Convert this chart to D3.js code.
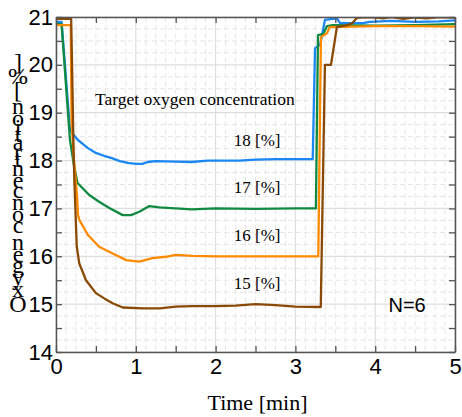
<!DOCTYPE html>
<html>
<head>
<meta charset="utf-8">
<script src="https://cdn.jsdelivr.net/npm/d3@7"></script>
<style>
  body { margin: 0; background: #fff; }
  svg { display: block; }
</style>
</head>
<body>
<div id="chart"></div>
<script>
// time (min) / oxygen (%)
const tBlue = [0, 0.07, 0.175, 0.225, 0.275, 0.4, 0.5, 0.6, 0.7, 0.8, 0.9, 1.0, 1.08, 1.15, 1.25, 1.5, 1.7, 1.9, 2.0, 2.3, 2.5, 2.75, 3.0, 3.217, 3.246, 3.31, 3.37, 3.52, 3.56, 3.85, 3.93, 4.2, 4.5, 4.8, 5.0];
const vBlue = [20.9, 20.9, 18.64, 18.53, 18.43, 18.26, 18.16, 18.1, 18.05, 17.99, 17.95, 17.93, 17.93, 17.97, 17.99, 17.98, 17.97, 18.0, 18.0, 18.0, 18.02, 18.03, 18.03, 18.03, 20.35, 20.42, 20.94, 20.97, 20.87, 20.87, 20.9, 20.92, 20.9, 20.91, 20.93];

const tGreen = [0, 0.07, 0.175, 0.225, 0.27, 0.417, 0.54, 0.668, 0.836, 0.94, 1.044, 1.17, 1.295, 1.5, 1.7, 2.0, 2.5, 3.0, 3.257, 3.283, 3.35, 3.396, 3.47, 4.0, 4.5, 5.0];
const vGreen = [20.85, 20.85, 18.43, 17.9, 17.53, 17.28, 17.14, 17.01, 16.86, 16.86, 16.93, 17.05, 17.02, 17.0, 16.98, 17.0, 16.99, 17.0, 17.0, 20.62, 20.65, 20.81, 20.83, 20.82, 20.83, 20.85];

const tOrange = [0, 0.185, 0.195, 0.225, 0.263, 0.276, 0.292, 0.398, 0.54, 0.71, 0.88, 1.044, 1.21, 1.378, 1.5, 1.713, 2.0, 2.5, 3.0, 3.287, 3.32, 3.396, 3.43, 4.0, 4.5, 5.0];
const vOrange = [20.83, 20.83, 18.85, 18.01, 17.28, 16.86, 16.76, 16.45, 16.2, 16.06, 15.92, 15.89, 15.96, 15.99, 16.03, 16.01, 16.0, 16.0, 16.0, 16.0, 20.58, 20.66, 20.79, 20.81, 20.81, 20.8];

const tBrown = [0, 0.19, 0.2, 0.22, 0.23, 0.26, 0.292, 0.376, 0.5, 0.605, 0.71, 0.836, 1.09, 1.3, 1.5, 1.7, 2.0, 2.25, 2.5, 2.75, 3.0, 3.318, 3.37, 3.446, 3.52, 3.65, 3.71, 3.77, 3.9, 4.0, 4.1, 4.2, 4.35, 4.5, 4.65, 4.8, 5.0];
const vBrown = [20.96, 20.96, 20.1, 18.2, 17.6, 16.2, 15.85, 15.5, 15.23, 15.12, 15.02, 14.93, 14.91, 14.91, 14.95, 14.96, 14.96, 14.97, 15.0, 14.98, 14.95, 14.94, 20.0, 20.0, 20.79, 20.83, 20.87, 20.98, 21.0, 20.99, 20.97, 21.0, 20.96, 20.99, 20.97, 21.0, 20.99];

const targets = ['18 [%]', '17 [%]', '16 [%]', '15 [%]'];
const targetLevels = [18, 17, 16, 15];

const xTicks = [0, 1, 2, 3, 4, 5];
const yTicks = [14, 15, 16, 17, 18, 19, 20, 21];

const series = [
  { t: tBlue, v: vBlue, color: '#1a87f2' },
  { t: tGreen, v: vGreen, color: '#0f8a40' },
  { t: tOrange, v: vOrange, color: '#ff8a00' },
  { t: tBrown, v: vBrown, color: '#8a4a06' }
];

const W = 462, H = 417;
const margin = { top: 17, right: 7, bottom: 65, left: 56 };
const width = W - margin.left - margin.right;
const height = H - margin.top - margin.bottom;

const svg = d3.select('#chart').append('svg').attr('width', W).attr('height', H);
const g = svg.append('g').attr('transform', `translate(${margin.left},${margin.top})`);

const x = d3.scaleLinear().domain([0, 5]).range([0, width]);
const y = d3.scaleLinear().domain([14, 21]).range([height, 0]);

// minor dashed grid
g.append('g').selectAll('line.mx')
  .data(d3.range(0.125, 5, 0.125).filter(d => Math.abs(d - Math.round(d)) > 0.01))
  .enter().append('line')
    .attr('x1', d => x(d)).attr('x2', d => x(d))
    .attr('y1', 0).attr('y2', height)
    .attr('stroke', '#e6e6e6').attr('stroke-dasharray', '5,3');
g.append('g').selectAll('line.my')
  .data(d3.range(14.25, 21, 0.25).filter(d => Math.abs(d - Math.round(d)) > 0.01))
  .enter().append('line')
    .attr('x1', 0).attr('x2', width)
    .attr('y1', d => y(d)).attr('y2', d => y(d))
    .attr('stroke', '#e6e6e6').attr('stroke-dasharray', '5,3');

// major grid
g.append('g').selectAll('line')
  .data(xTicks).enter().append('line')
    .attr('x1', d => x(d)).attr('x2', d => x(d))
    .attr('y1', 0).attr('y2', height)
    .attr('stroke', '#dedede').attr('stroke-width', 1.2);
g.append('g').selectAll('line')
  .data(yTicks).enter().append('line')
    .attr('x1', 0).attr('x2', width)
    .attr('y1', d => y(d)).attr('y2', d => y(d))
    .attr('stroke', '#dedede').attr('stroke-width', 1.2);

// curves
g.append('clipPath').attr('id', 'clip')
  .append('rect').attr('width', width).attr('height', height);

const line = d3.line().x(d => x(d[0])).y(d => y(d[1]));

g.append('g').attr('clip-path', 'url(#clip)')
  .selectAll('path')
  .data(series).enter().append('path')
    .attr('d', s => line(s.t.map((t, i) => [t, s.v[i]])))
    .attr('fill', 'none')
    .attr('stroke', s => s.color)
    .attr('stroke-width', 2.3)
    .attr('stroke-linejoin', 'round');

// axes: box with inward ticks
const halfX = d3.range(0, 5.01, 0.5);
const halfY = d3.range(14, 21.01, 0.5);
const fmt = d => Number.isInteger(d) ? d : '';

function styleAxis(sel) {
  sel.select('.domain').attr('stroke', '#555').attr('stroke-width', 1.5);
  sel.selectAll('.tick line').attr('stroke', '#555').attr('stroke-width', 1.3);
  sel.selectAll('text').attr('font-family', 'Liberation Sans, Arial, sans-serif')
    .attr('font-size', 22).attr('fill', '#000');
}

g.append('g').attr('transform', `translate(0,${height})`)
  .call(d3.axisBottom(x).tickValues(halfX).tickFormat(fmt).tickSizeInner(-6).tickSizeOuter(0).tickPadding(6))
  .call(styleAxis);
g.append('g')
  .call(d3.axisTop(x).tickValues(halfX).tickFormat('').tickSizeInner(-6).tickSizeOuter(0))
  .call(styleAxis);
g.append('g')
  .call(d3.axisLeft(y).tickValues(halfY).tickFormat(fmt).tickSizeInner(-6).tickSizeOuter(0).tickPadding(3))
  .call(styleAxis);
g.append('g').attr('transform', `translate(${width},0)`)
  .call(d3.axisRight(y).tickValues(halfY).tickFormat('').tickSizeInner(-6).tickSizeOuter(0))
  .call(styleAxis);

// annotations
const serif = 'Liberation Serif, Times New Roman, serif';
g.append('text')
  .attr('x', 39).attr('y', 88)
  .attr('font-family', serif).attr('font-size', 17.5)
  .text('Target oxygen concentration');

g.selectAll('text.lvl')
  .data(targets).enter().append('text')
    .attr('class', 'lvl')
    .attr('x', x(2.52))
    .attr('y', (d, i) => y(targetLevels[i]) - 15)
    .attr('text-anchor', 'middle')
    .attr('font-family', serif).attr('font-size', 17)
    .text(d => d);

g.append('text')
  .attr('x', x(4.4)).attr('y', y(14.95) + 5)
  .attr('text-anchor', 'middle')
  .attr('font-family', 'Liberation Sans, Arial, sans-serif').attr('font-size', 20)
  .text('N=6');

svg.append('text')
  .attr('x', margin.left + width / 2 + 2).attr('y', 410)
  .attr('text-anchor', 'middle')
  .attr('font-family', serif).attr('font-size', 22)
  .text('Time [min]');

// y label: glyphs stacked upward, each upright
const yLabel = 'Oxygen concentration [%]';
const yl = svg.append('g');
let pos = 312;
yLabel.split('').forEach(ch => {
  const t = yl.append('text')
    .attr('font-family', serif).attr('font-size', 24)
    .attr('text-anchor', 'middle')
    .attr('x', 18)
    .text(ch === ' ' ? '\u00a0' : ch);
  const adv = t.node().getComputedTextLength();
  t.attr('y', pos - adv / 2).attr('dy', '0.35em');
  pos -= adv;
});
</script>
</body>
</html>
